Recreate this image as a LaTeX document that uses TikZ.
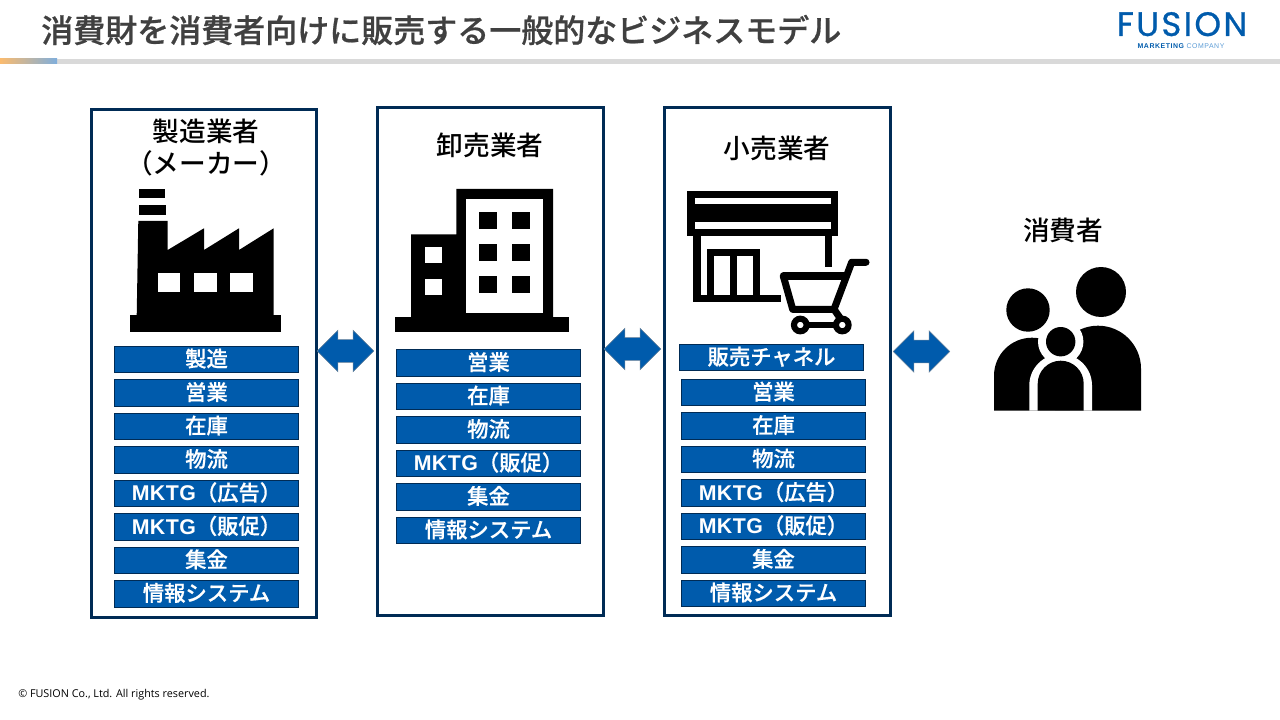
\documentclass[tikz,border=0pt]{standalone}
\usepackage{fontspec}
\setmainfont{Noto Sans CJK JP}
\newfontfamily\medfont{Noto Sans CJK JP Medium}
\newfontfamily\strongfont[FakeBold=0.6]{Noto Sans CJK JP Medium}
\newfontfamily\footfont{Open Sans}
\newfontfamily\mktgfont[LetterSpace=2]{Liberation Sans}
\newfontfamily\logofont[LetterSpace=7,FakeBold=0.8]{Poppins}
\newfontfamily\logosub[LetterSpace=8]{Liberation Sans}
\newcommand{\mktg}{{\mktgfont\bfseries MKTG}}
\usetikzlibrary{shapes.arrows}
\definecolor{navy}{HTML}{002B55}
\definecolor{fusionblue}{HTML}{005BAC}
\definecolor{titlegray}{HTML}{404040}
\definecolor{bargray}{HTML}{D9D9D9}
\definecolor{barorange}{HTML}{FBBB6E}
\definecolor{barblue}{HTML}{7FAEDC}
\definecolor{sublight}{HTML}{5B9BD5}

\begin{document}
\begin{tikzpicture}[x=0.75pt,y=-0.75pt,node distance=25.1pt,
    frame node/.style={draw=navy,line width=2.3pt,fill=none,minimum width=169pt,minimum height=381pt,inner sep=0pt},
    task node/.style={rectangle,draw=navy,line width=0.6pt,fill=fusionblue,text=white,font=\fontsize{16pt}{16pt}\strongfont\selectfont,minimum width=138.5pt,minimum height=20pt,inner sep=0pt,text height=13pt,text depth=2.2pt},
    head node/.style={font=\fontsize{20pt}{24pt}\medfont\selectfont,text=black,align=center,inner sep=0pt},
    flow node/.style={double arrow,draw=navy!60,line width=0.4pt,fill=fusionblue,minimum height=42.5pt,double arrow head extend=7pt,inner xsep=0pt,inner ysep=8.3pt}]
  \useasboundingbox (0,0) rectangle (1280,720);

  % header
  \fill[bargray] (0,59) rectangle (1280,64);
  \shade[left color=barorange,right color=barblue] (0,59) rectangle (57,64);
  \node[anchor=west,inner sep=0pt,text=titlegray,font=\fontsize{24pt}{24pt}\strongfont\selectfont] (title) at (41,30) {消費財を消費者向けに販売する一般的なビジネスモデル};
  \node[anchor=base,inner sep=0pt,text depth=0pt,text height=16pt,text=fusionblue,font=\fontsize{25.4pt}{25.4pt}\logofont\selectfont] (logo) at (1182,36) {FUSION};
  \node[inner sep=0pt,font=\fontsize{5.2pt}{5.2pt}\logosub\selectfont] (logosub) at (1181,46) {\textcolor{fusionblue}{\bfseries MARKETING} \textcolor{sublight}{COMPANY}};
  \node[anchor=west,inner sep=0pt,font=\fontsize{8.1pt}{8.1pt}\footfont\selectfont] (copy) at (18,695) {© FUSION Co., Ltd. All rights reserved.};

  % frames
  \node[frame node] (maker) at (204.2,363.5) {};
  \node[frame node] (whole) at (490.5,361.5) {};
  \node[frame node] (retail) at (777.5,361.5) {};

  \node[head node] (makerhead) at (206,148) {製造業者\\（メーカー）};
  \node[head node] (wholehead) at (490,145) {卸売業者};
  \node[head node] (retailhead) at (777,148) {小売業者};
  \node[head node] (userhead) at (1063,230) {消費者};

  % maker tasks
  \node[task node] (m1) at (206.5,359.5) {製造};
  \node[task node] (m2) [below of=m1] {営業};
  \node[task node] (m3) [below of=m2] {在庫};
  \node[task node] (m4) [below of=m3] {物流};
  \node[task node] (m5) [below of=m4] {\mktg（広告）};
  \node[task node] (m6) [below of=m5] {\mktg（販促）};
  \node[task node] (m7) [below of=m6] {集金};
  \node[task node] (m8) [below of=m7] {情報システム};

  % wholesaler tasks
  \node[task node] (w1) at (488.5,363) {営業};
  \node[task node] (w2) [below of=w1] {在庫};
  \node[task node] (w3) [below of=w2] {物流};
  \node[task node] (w4) [below of=w3] {\mktg（販促）};
  \node[task node] (w5) [below of=w4] {集金};
  \node[task node] (w6) [below of=w5] {情報システム};

  % retailer tasks
  \node[task node] (r0) at (771.5,357.5) {販売チャネル};
  \node[task node] (r1) at (773.5,392.5) {営業};
  \node[task node] (r2) [below of=r1] {在庫};
  \node[task node] (r3) [below of=r2] {物流};
  \node[task node] (r4) [below of=r3] {\mktg（広告）};
  \node[task node] (r5) [below of=r4] {\mktg（販促）};
  \node[task node] (r6) [below of=r5] {集金};
  \node[task node] (r7) [below of=r6] {情報システム};

  % flows
  \node[flow node] (flowa) at (345.5,351) {};
  \node[flow node] (flowb) at (632.5,349) {};
  \node[flow node] (flowc) at (921.5,351.5) {};

  % factory
  \fill[black] (130,315) rectangle (281,332);
  \fill[black] (139,189) rectangle (165.3,198);
  \fill[black] (138.7,204.7) rectangle (166,215);
  \fill[black] (136.7,316) -- (138.3,221) -- (167.7,221) -- (167.7,250) -- (204,228.3) -- (204,250) -- (239,228.3) -- (239,250) -- (273.7,228.3) -- (273.7,316) -- cycle;
  \fill[white] (157.7,273.3) rectangle (180.3,292.3);
  \fill[white] (194,273.3) rectangle (216.7,292.3);
  \fill[white] (230.3,273.3) rectangle (253.3,292.3);

  % office building
  \fill[black] (395,317.3) rectangle (569,332);
  \fill[black] (411,318) -- (411,234.3) -- (456.3,234.3) -- (456.3,189) -- (553,189) -- (553,318) -- cycle;
  \fill[white] (466.3,199) rectangle (543.3,312.7);
  \fill[black] (479.3,211.7) rectangle (497.3,229.3);
  \fill[black] (512,211.7) rectangle (529.7,229.3);
  \fill[black] (479.3,243.7) rectangle (497.3,261.3);
  \fill[black] (512,243.7) rectangle (529.7,261.3);
  \fill[black] (479.3,275.7) rectangle (497.3,293.3);
  \fill[black] (512,275.7) rectangle (529.7,293.3);
  \fill[white] (425.3,247.3) rectangle (441.7,263.3);
  \fill[white] (425.3,278.7) rectangle (441.7,294.7);

  % shop
  \fill[black] (687,191) rectangle (838.3,235.7);
  \fill[white] (694.7,198.3) rectangle (831,204.3);
  \fill[white] (694.7,222.3) rectangle (831,228.7);
  \fill[black] (693.3,235) rectangle (701,302.3);
  \fill[black] (824.7,235) rectangle (832.3,266.7);
  \fill[black] (693.3,294.7) rectangle (780.7,302.3);
  \fill[black] (707,249) rectangle (760.3,296);
  \fill[white] (714.3,256.3) rectangle (730,294.7);
  \fill[white] (737.3,256.3) rectangle (753,294.7);

  % cart
  \draw[black,line width=5.3pt,line cap=round,line join=round] (866,262.3) -- (851.7,262.3) -- (834,309.3) -- (845,325);
  \draw[black,line width=5.3pt,line cap=round,line join=round] (783.3,276) -- (846,276);
  \draw[black,line width=5.3pt,line join=round] (783.3,276) -- (792.7,309.3) -- (834,309.3);
  \draw[black,line width=5pt] (800.3,325) -- (842.3,325);
  \draw[black,line width=4.6pt,fill=white] (800.3,325) circle[radius=6.3];
  \draw[black,line width=4.6pt,fill=white] (842.3,325) circle[radius=6.3];

  % family
  \fill[black] (1101,292) circle[radius=25];
  \fill[black] (1028,310) circle[radius=21.7];
  \fill[black] (1141,410.7) -- (1141,368.7) arc[start angle=0,end angle=-180,radius=43] -- (1055,410.7) -- cycle;
  \fill[black] (994,410.7) -- (994,375.7) arc[start angle=180,end angle=360,radius=38] -- (1070,410.7) -- cycle;
  \fill[white] (1060.7,341.7) circle[radius=22.7];
  \fill[white] (1029.3,410.7) -- (1029.3,385.4) arc[start angle=180,end angle=360,radius=31.35] -- (1092,410.7) -- cycle;
  \fill[black] (1060.7,341.7) circle[radius=14.7];
  \fill[black] (1037.7,410.7) -- (1037.7,383.7) arc[start angle=180,end angle=360,radius=23] -- (1083.7,410.7) -- cycle;
\end{tikzpicture}
\end{document}
